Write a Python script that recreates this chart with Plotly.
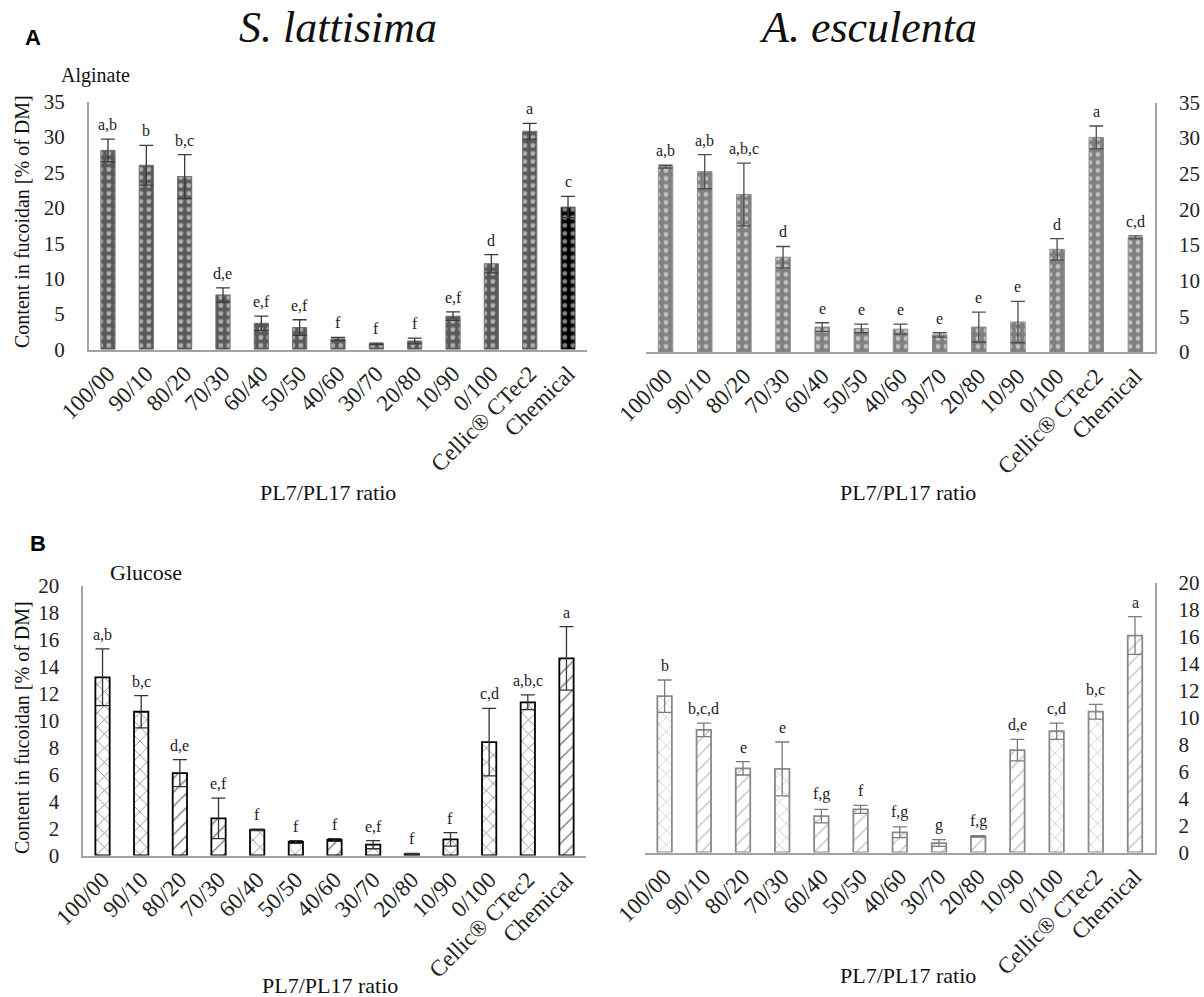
import plotly.graph_objects as go

# PL7/PL17 enzyme ratios and reference treatments
categories = ["100/00", "90/10", "80/20", "70/30", "60/40", "50/50", "40/60",
              "30/70", "20/80", "10/90", "0/100", "Cellic® CTec2", "Chemical"]

# Alginate content in fucoidan [% of DM]
alginate_sl = [28.1, 26.0, 24.4, 7.7, 3.7, 3.1, 1.5, 0.8, 1.2, 4.7, 12.1, 30.8, 20.1]
alginate_sl_err = [1.6, 2.8, 3.1, 1.0, 1.0, 1.1, 0.2, 0.1, 0.4, 0.6, 1.3, 1.1, 1.5]
alginate_sl_sig = ["a,b", "b", "b,c", "d,e", "e,f", "e,f", "f", "f", "f", "e,f", "d", "a", "c"]

alginate_ae = [26.0, 25.3, 22.1, 13.3, 3.5, 3.3, 3.2, 2.4, 3.5, 4.2, 14.4, 30.1, 16.1]
alginate_ae_err = [0.2, 2.4, 4.4, 1.5, 0.6, 0.6, 0.7, 0.3, 2.1, 2.9, 1.5, 1.6, 0.2]
alginate_ae_sig = ["a,b", "a,b", "a,b,c", "d", "e", "e", "e", "e", "e", "e", "d", "a", "c,d"]

# Glucose content in fucoidan [% of DM]
glucose_sl = [13.2, 10.65, 6.1, 2.75, 1.9, 1.0, 1.15, 0.8, 0.1, 1.2, 8.4, 11.35, 14.6]
glucose_sl_err = [2.1, 1.2, 1.0, 1.5, 0.05, 0.1, 0.1, 0.3, 0.05, 0.5, 2.5, 0.55, 2.35]
glucose_sl_sig = ["a,b", "b,c", "d,e", "e,f", "f", "f", "f", "e,f", "f", "f", "c,d", "a,b,c", "a"]

glucose_ae = [11.6, 9.1, 6.25, 6.2, 2.7, 3.2, 1.5, 0.7, 1.2, 7.6, 9.0, 10.45, 16.1]
glucose_ae_err = [1.2, 0.5, 0.5, 2.0, 0.5, 0.3, 0.4, 0.25, 0.05, 0.8, 0.6, 0.55, 1.4]
glucose_ae_sig = ["b", "b,c,d", "e", "e", "f,g", "f", "f,g", "g", "f,g", "d,e", "c,d", "b,c", "a"]

SERIF = "Liberation Serif"
SANS = "Liberation Sans"
AXIS_GREY = "#a3a3a3"

W, H = 1204, 997


def px_x(p):
    return p / W


def px_y(p):
    return 1 - p / H


fig = go.Figure()

sl_glc_shapes = ["x", "x", "/", "/", "x", "x", "/", "x", "x", "x", "x", "x", "/"]
ae_glc_shapes = ["x", "/", "/", "x", "/", "/", "/", "/", "/", "/", "x", "x", "/"]

panels = [
    # (values, errors, letters, xaxis, yaxis, marker, error colour)
    (alginate_sl, alginate_sl_err, alginate_sl_sig, "x", "y",
     dict(color=["#595959"] * 12 + ["black"],
          pattern=dict(shape=".", fgcolor="white",
                       bgcolor=["#595959"] * 12 + ["black"], size=8, solidity=0.3),
          line=dict(color="#707070", width=1)),
     "#3a3a3a"),
    (alginate_ae, alginate_ae_err, alginate_ae_sig, "x2", "y2",
     dict(color="#7f7f7f",
          pattern=dict(shape=".", fgcolor="white", bgcolor="#7f7f7f", size=8, solidity=0.3),
          line=dict(color="#8c8c8c", width=1)),
     "#4d4d4d"),
    (glucose_sl, glucose_sl_err, glucose_sl_sig, "x3", "y3",
     dict(color="white",
          pattern=dict(shape=sl_glc_shapes, fgcolor="black", bgcolor="white",
                       size=10, solidity=0.15),
          line=dict(color="black", width=1.8)),
     "#333333"),
    (glucose_ae, glucose_ae_err, glucose_ae_sig, "x4", "y4",
     dict(color="white",
          pattern=dict(shape=ae_glc_shapes, fgcolor="#8a8a8a", bgcolor="white",
                       size=10, solidity=0.15),
          line=dict(color="#8a8a8a", width=1.8)),
     "#7a7a7a"),
]

annotations = []
for vals, errs, sig, xa, ya, marker, ecol in panels:
    fig.add_trace(go.Bar(
        x=categories, y=vals, xaxis=xa, yaxis=ya, marker=marker,
        error_y=dict(type="data", array=errs, visible=True, color=ecol,
                     thickness=1.3, width=7),
        showlegend=False,
    ))
    for c, v, e, s in zip(categories, vals, errs, sig):
        annotations.append(dict(
            x=c, y=v + e, xref=xa, yref=ya, text=s, showarrow=False,
            xanchor="center", yanchor="bottom", yshift=4,
            font=dict(family=SERIF, size=16, color="#222222"),
        ))

xcommon = dict(type="category", range=[-0.5, 12.5], showline=True, linecolor=AXIS_GREY,
               linewidth=1.5, ticks="", tickangle=-45, showgrid=False, zeroline=False,
               automargin=False,
               tickfont=dict(family=SERIF, size=23, color="#222222"))
ycommon = dict(showline=True, linecolor=AXIS_GREY, linewidth=1.5, ticks="",
               showgrid=False, zeroline=False, ticklabelstandoff=18, automargin=False,
               tickfont=dict(family=SERIF, size=21, color="#222222"))

fig.update_layout(
    width=W, height=H,
    margin=dict(l=0, r=0, t=0, b=0, autoexpand=False),
    paper_bgcolor="white", plot_bgcolor="white",
    bargap=0.63,
    xaxis=dict(xcommon, domain=[px_x(88.8), px_x(587.2)], anchor="y"),
    yaxis=dict(ycommon, domain=[px_y(349.5), px_y(101.5)], range=[0, 35], dtick=5,
               anchor="x", side="left"),
    xaxis2=dict(xcommon, domain=[px_x(646), px_x(1155)], anchor="y2"),
    yaxis2=dict(ycommon, domain=[px_y(352), px_y(102.5)], range=[0, 35], dtick=5,
                anchor="x2", side="right"),
    xaxis3=dict(xcommon, domain=[px_x(83.2), px_x(585.8)], anchor="y3"),
    yaxis3=dict(ycommon, domain=[px_y(855.5), px_y(585.5)], range=[0, 20], dtick=2,
                anchor="x3", side="left"),
    xaxis4=dict(xcommon, domain=[px_x(645), px_x(1154.6)], anchor="y4"),
    yaxis4=dict(ycommon, domain=[px_y(852.5), px_y(583)], range=[0, 20], dtick=2,
                anchor="x4", side="right"),
)


# panel letters, species titles, component names and axis titles
def text(x, y, s, size, family=SERIF, color="#111111", **kw):
    annotations.append(dict(x=px_x(x), y=px_y(y), xref="paper", yref="paper", text=s,
                            showarrow=False, xanchor="center", yanchor="middle",
                            font=dict(family=family, size=size, color=color), **kw))


text(33, 37, "<b>A</b>", 22, family=SANS, color="black")
text(38, 543, "<b>B</b>", 22, family=SANS, color="black")
text(338, 27, "<i>S. lattisima</i>", 44)
text(868, 27, "<i>A. esculenta</i>", 44)
text(95, 75, "Alginate", 20)
text(146, 572, "Glucose", 22)
text(22, 222, "Content in fucoidan [% of DM]", 20, textangle=-90)
text(22, 728, "Content in fucoidan [% of DM]", 20, textangle=-90)
text(328, 493, "PL7/PL17 ratio", 22)
text(908, 493, "PL7/PL17 ratio", 22)
text(330, 985, "PL7/PL17 ratio", 22)
text(908, 975, "PL7/PL17 ratio", 22)

fig.update_layout(annotations=annotations)

fig.write_html("out.html")
